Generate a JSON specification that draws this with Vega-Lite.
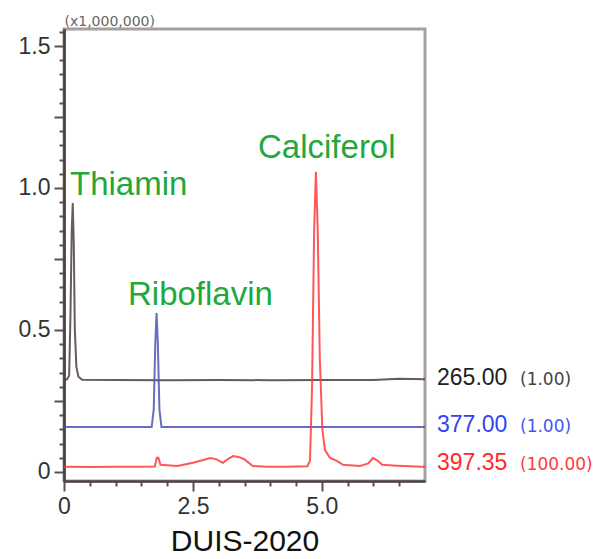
{
  "$schema": "https://vega.github.io/schema/vega-lite/v6.json",
  "width": 361,
  "height": 452,
  "autosize": {"type": "none"},
  "padding": {"left": 64, "top": 29, "right": 173, "bottom": 78},
  "background": "white",
  "config": {
    "view": {"stroke": "#a8a09f", "strokeWidth": 3},
    "font": "Liberation Sans",
    "axis": {"tickColor": "#5a5050", "tickWidth": 2, "domainColor": "#4d4343", "domainWidth": 2, "grid": false, "labelColor": "#333", "labelFontSize": 23, "labelOverlap": false, "labelFlush": false}
  },
  "datasets": {
    "traces": [
      {"series": "265.00", "t": 0, "v": 0.324}, {"series": "265.00", "t": 0.06, "v": 0.326}, {"series": "265.00", "t": 0.1, "v": 0.34},
      {"series": "265.00", "t": 0.125, "v": 0.55}, {"series": "265.00", "t": 0.15, "v": 0.85}, {"series": "265.00", "t": 0.17, "v": 0.947},
      {"series": "265.00", "t": 0.19, "v": 0.8}, {"series": "265.00", "t": 0.21, "v": 0.5}, {"series": "265.00", "t": 0.24, "v": 0.37},
      {"series": "265.00", "t": 0.28, "v": 0.335}, {"series": "265.00", "t": 0.35, "v": 0.325}, {"series": "265.00", "t": 1.0, "v": 0.324},
      {"series": "265.00", "t": 2.0, "v": 0.323}, {"series": "265.00", "t": 3.0, "v": 0.324}, {"series": "265.00", "t": 4.0, "v": 0.323},
      {"series": "265.00", "t": 5.0, "v": 0.324}, {"series": "265.00", "t": 6.0, "v": 0.324}, {"series": "265.00", "t": 6.5, "v": 0.328},
      {"series": "265.00", "t": 7.0, "v": 0.326},
      {"series": "377.00", "t": 0, "v": 0.158}, {"series": "377.00", "t": 1.0, "v": 0.158}, {"series": "377.00", "t": 1.7, "v": 0.158},
      {"series": "377.00", "t": 1.74, "v": 0.22}, {"series": "377.00", "t": 1.77, "v": 0.45}, {"series": "377.00", "t": 1.795, "v": 0.56},
      {"series": "377.00", "t": 1.82, "v": 0.45}, {"series": "377.00", "t": 1.85, "v": 0.22}, {"series": "377.00", "t": 1.89, "v": 0.158},
      {"series": "377.00", "t": 3.0, "v": 0.158}, {"series": "377.00", "t": 5.0, "v": 0.158}, {"series": "377.00", "t": 7.0, "v": 0.158},
      {"series": "397.35", "t": 0, "v": 0.018}, {"series": "397.35", "t": 0.5, "v": 0.017}, {"series": "397.35", "t": 1.0, "v": 0.018},
      {"series": "397.35", "t": 1.5, "v": 0.018}, {"series": "397.35", "t": 1.76, "v": 0.019}, {"series": "397.35", "t": 1.8, "v": 0.05},
      {"series": "397.35", "t": 1.83, "v": 0.05}, {"series": "397.35", "t": 1.87, "v": 0.025}, {"series": "397.35", "t": 2.2, "v": 0.021},
      {"series": "397.35", "t": 2.5, "v": 0.032}, {"series": "397.35", "t": 2.7, "v": 0.042}, {"series": "397.35", "t": 2.83, "v": 0.049},
      {"series": "397.35", "t": 2.95, "v": 0.045}, {"series": "397.35", "t": 3.08, "v": 0.032}, {"series": "397.35", "t": 3.2, "v": 0.048},
      {"series": "397.35", "t": 3.28, "v": 0.056}, {"series": "397.35", "t": 3.4, "v": 0.052}, {"series": "397.35", "t": 3.5, "v": 0.044},
      {"series": "397.35", "t": 3.66, "v": 0.021}, {"series": "397.35", "t": 3.94, "v": 0.018}, {"series": "397.35", "t": 4.3, "v": 0.018},
      {"series": "397.35", "t": 4.72, "v": 0.02}, {"series": "397.35", "t": 4.77, "v": 0.04}, {"series": "397.35", "t": 4.81, "v": 0.3},
      {"series": "397.35", "t": 4.85, "v": 0.85}, {"series": "397.35", "t": 4.885, "v": 1.057}, {"series": "397.35", "t": 4.92, "v": 0.85},
      {"series": "397.35", "t": 4.96, "v": 0.4}, {"series": "397.35", "t": 5.01, "v": 0.15}, {"series": "397.35", "t": 5.06, "v": 0.077},
      {"series": "397.35", "t": 5.16, "v": 0.049}, {"series": "397.35", "t": 5.29, "v": 0.039}, {"series": "397.35", "t": 5.41, "v": 0.025},
      {"series": "397.35", "t": 5.74, "v": 0.021}, {"series": "397.35", "t": 5.9, "v": 0.03}, {"series": "397.35", "t": 5.99, "v": 0.049},
      {"series": "397.35", "t": 6.08, "v": 0.04}, {"series": "397.35", "t": 6.17, "v": 0.025}, {"series": "397.35", "t": 6.46, "v": 0.022},
      {"series": "397.35", "t": 6.94, "v": 0.018}, {"series": "397.35", "t": 7.0, "v": 0.018}
    ],
    "names": [
      {"name": "Thiamin", "t": 0.116, "v": 0.976},
      {"name": "Riboflavin", "t": 1.241, "v": 0.588},
      {"name": "Calciferol", "t": 3.762, "v": 1.106}
    ],
    "channels": [
      {"series": "265.00", "factor": "(1.00)", "t": 7.233, "ft": 8.842, "v": 0.306},
      {"series": "377.00", "factor": "(1.00)", "t": 7.233, "ft": 8.842, "v": 0.141},
      {"series": "397.35", "factor": "(100.00)", "t": 7.233, "ft": 8.842, "v": 0.007}
    ]
  },
  "layer": [
    {
      "data": {"name": "traces"},
      "mark": {"type": "line", "strokeWidth": 2, "clip": true, "opacity": 0.85},
      "encoding": {
        "x": {
          "field": "t", "type": "quantitative",
          "scale": {"domain": [0, 7], "nice": false, "zero": false},
          "axis": {
            "orient": "bottom",
            "title": "DUIS-2020", "titleFontSize": 30, "titleFontWeight": "normal", "titleColor": "#111", "titlePadding": 8,
            "values": [0, 2.5, 5],
            "labelExpr": "datum.value == 0 ? '0' : format(datum.value, '.1f')",
            "labelPadding": 4, "tickSize": 10
          }
        },
        "y": {
          "field": "v", "type": "quantitative",
          "scale": {"domain": [-0.032, 1.56], "nice": false, "zero": false},
          "axis": {
            "orient": "left",
            "title": "(x1,000,000)", "titleAngle": 0, "titleX": 0, "titleY": -4, "titleAlign": "left", "titleBaseline": "alphabetic",
            "titleFontSize": 14, "titleFont": "DejaVu Sans", "titleFontWeight": "normal", "titleColor": "#666",
            "values": [0, 0.5, 1.0, 1.5],
            "labelExpr": "datum.value == 0 ? '0' : format(datum.value, '.1f')",
            "labelPadding": 4, "tickSize": 10
          }
        },
        "color": {
          "field": "series", "type": "nominal",
          "scale": {"domain": ["265.00", "377.00", "397.35"], "range": ["#4a3f3e", "#4a55b5", "#ff3838"]},
          "legend": null
        }
      }
    },
    {
      "data": {"name": "names"},
      "mark": {"type": "text", "align": "left", "baseline": "alphabetic", "fontSize": 33, "color": "#22a83a", "font": "Liberation Sans"},
      "encoding": {
        "x": {
          "field": "t", "type": "quantitative",
          "axis": {"orient": "bottom", "title": null, "labels": false, "tickSize": 5,
                   "values": [0.5, 1, 1.5, 2, 3, 3.5, 4, 4.5, 5.5, 6, 6.5]}
        },
        "y": {
          "field": "v", "type": "quantitative",
          "axis": {"orient": "left", "title": null, "labels": false, "tickSize": 5,
                   "values": [0.05, 0.1, 0.15, 0.2, 0.3, 0.35, 0.4, 0.45, 0.55, 0.6, 0.65, 0.7, 0.8, 0.85, 0.9, 0.95, 1.05, 1.1, 1.15, 1.2, 1.3, 1.35, 1.4, 1.45, 1.55]}
        },
        "text": {"field": "name"}
      }
    },
    {
      "data": {"name": "channels"},
      "mark": {"type": "text", "align": "left", "baseline": "alphabetic", "fontSize": 23, "font": "Liberation Sans"},
      "encoding": {
        "x": {"field": "t", "type": "quantitative", "axis": null},
        "y": {
          "field": "v", "type": "quantitative",
          "axis": {"orient": "left", "title": null, "labels": false, "tickSize": 10, "values": [0.25, 0.75, 1.25]}
        },
        "text": {"field": "series"},
        "color": {
          "field": "series", "type": "nominal",
          "scale": {"domain": ["265.00", "377.00", "397.35"], "range": ["#222222", "#3344ee", "#ff2a2a"]},
          "legend": null
        }
      }
    },
    {
      "data": {"name": "channels"},
      "mark": {"type": "text", "align": "left", "baseline": "alphabetic", "fontSize": 17, "font": "DejaVu Sans"},
      "encoding": {
        "x": {"field": "ft", "type": "quantitative", "axis": null},
        "y": {"field": "v", "type": "quantitative", "axis": null},
        "text": {"field": "factor"},
        "color": {
          "field": "series", "type": "nominal",
          "scale": {"domain": ["265.00", "377.00", "397.35"], "range": ["#444444", "#4455ee", "#ff3a3a"]},
          "legend": null
        }
      }
    }
  ],
  "resolve": {"scale": {"color": "independent"}, "axis": {"x": "independent", "y": "independent"}}
}
